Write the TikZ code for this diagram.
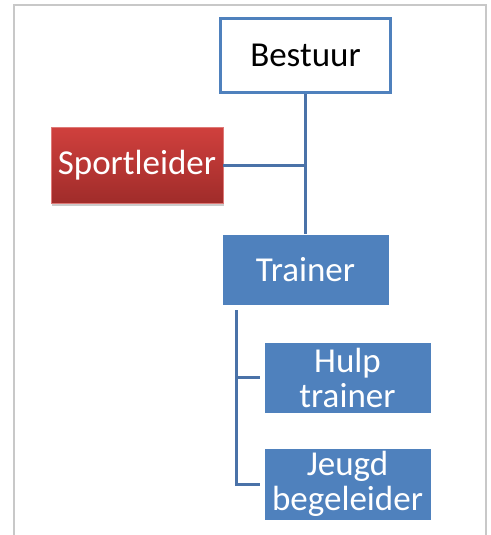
\documentclass[tikz,border=0pt]{standalone}
\usepackage{fontspec}
\setmainfont{Carlito}
\usetikzlibrary{calc,shadows}
\definecolor{boxblue}{HTML}{4F81BD}
\definecolor{lineblue}{HTML}{4A72A8}
\definecolor{redtop}{HTML}{D0403D}
\definecolor{redbot}{HTML}{A02C2A}
\definecolor{framegray}{HTML}{C8C8C8}
\tikzset{
  lbl/.style={font=\fontsize{35}{35}\selectfont, align=center, inner sep=0pt},
  bluebox/.style={lbl, fill=boxblue, text=white, draw=white, line width=0.8pt},
  topbox/.style={lbl, fill=white, draw=boxblue, line width=3pt, text=black},
  redbox/.style={lbl, top color=redtop, bottom color=redbot, draw=redtop!70!white, line width=0.6pt, text=white,
    drop shadow={shadow xshift=1pt, shadow yshift=-3pt, fill=black!40, opacity=0.5}},
  conn/.style={draw=lineblue, line width=3pt}
}
\begin{document}
\begin{tikzpicture}[x=1pt,y=-1pt]
\useasboundingbox (0,0) rectangle (490,535);
\fill[white] (0,0) rectangle (490,535);
\begin{scope}
\clip (0,0) rectangle (490,535);
\draw[framegray, line width=2pt] (14,545) -- (14,5) -- (486,5) -- (486,545);
\end{scope}
\node[topbox, minimum width=170pt, minimum height=74pt] (bestuur) at (305.5,55.5) {Bestuur};
\node[redbox, minimum width=172pt, minimum height=76pt] (sport) at (137,165) {Sportleider};
\node[bluebox, minimum width=167pt, minimum height=71pt] (trainer) at (305.5,269.5) {Trainer};
\node[bluebox, minimum width=167pt, minimum height=71pt] (hulp) at (347.5,377.5) {Hulp\\trainer};
\node[bluebox, minimum width=167pt, minimum height=72pt] (jeugd) at (347.5,484) {Jeugd\\begeleider};
\draw[conn] (bestuur.south) -- (trainer.north);
\draw[conn] (sport.east) -- (sport.east -| bestuur.south);
\coordinate (tv) at ($(trainer.south west)+(15,5)$);
\draw[conn] (tv) -- (tv |- jeugd.west) -- ($(jeugd.west)+(-4,0)$);
\draw[conn] (tv |- hulp.west) -- ($(hulp.west)+(-4,0)$);
\end{tikzpicture}
\end{document}
